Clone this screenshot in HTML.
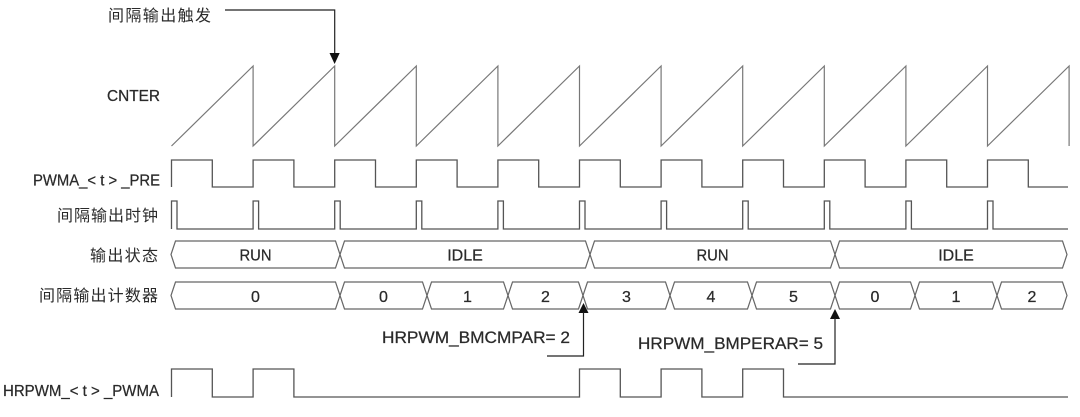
<!DOCTYPE html>
<html>
<head>
<meta charset="utf-8">
<style>
  html,body{margin:0;padding:0;background:#fff;}
  body{width:1080px;height:417px;overflow:hidden;}
  svg{display:block;}
  .lat{font-family:"Liberation Sans",Arial,sans-serif;fill:#2a2a2a;stroke:#2a2a2a;stroke-width:0.25;}
  .cjk{font-family:"Liberation Sans","Noto Sans CJK SC",sans-serif;fill:#2a2a2a;}
</style>
</head>
<body>
<svg width="1080" height="417" viewBox="0 0 1080 417" xmlns="http://www.w3.org/2000/svg">
  <rect width="1080" height="417" fill="#fff"/>

  <!-- top trigger annotation -->
  <text class="cjk" x="108" y="21" font-size="16" textLength="103" lengthAdjust="spacing">间隔输出触发</text>
  <path d="M225,10 H334.7 V55" fill="none" stroke="#222" stroke-width="1.2"/>
  <polygon points="329.5,53 339.7,53 334.6,64" fill="#111"/>

  <!-- CNTER -->
  <text class="lat" x="107" y="101" font-size="16" textLength="53" lengthAdjust="spacingAndGlyphs">CNTER</text>
  <path d="M171.5,146 L253.1,66 V146 L334.7,66 V146 L416.3,66 V146 L497.9,66 V146 L579.5,66 V146 L661.1,66 V146 L742.7,66 V146 L824.3,66 V146 L905.9,66 V146 L987.5,66 V146 L1069.1,66 V146"
        fill="none" stroke="#777" stroke-width="1.2"/>

  <!-- PWMA_<t>_PRE -->
  <text class="lat" x="33" y="185.5" font-size="16" textLength="127" lengthAdjust="spacingAndGlyphs">PWMA_&lt; t &gt; _PRE</text>
  <path d="M171.5,187 V160 H212.3 V187 H253.1 V160 H293.9 V187 H334.7 V160 H375.5 V187 H416.3 V160 H457.1 V187 H497.9 V160 H538.7 V187 H579.5 V160 H620.3 V187 H661.1 V160 H701.9 V187 H742.7 V160 H783.5 V187 H824.3 V160 H865.1 V187 H905.9 V160 H946.7 V187 H987.5 V160 H1028.3 V187 H1068"
        fill="none" stroke="#555" stroke-width="1.3"/>

  <!-- clock -->
  <text class="cjk" x="57" y="221" font-size="16" textLength="101" lengthAdjust="spacing">间隔输出时钟</text>
  <path d="M171.5,229 V201 H177 V229 H253.1 V201 H258.6 V229 H334.7 V201 H340.2 V229 H416.3 V201 H421.8 V229 H497.9 V201 H503.4 V229 H579.5 V201 H585 V229 H661.1 V201 H666.6 V229 H742.7 V201 H748.2 V229 H824.3 V201 H829.8 V229 H905.9 V201 H911.4 V229 H987.5 V201 H993 V229 H1068"
        fill="none" stroke="#555" stroke-width="1.3"/>

  <!-- output state bus -->
  <text class="cjk" x="90" y="261" font-size="16" textLength="68" lengthAdjust="spacing">输出状态</text>
  <g fill="none" stroke="#666" stroke-width="1.2">
    <path d="M171,254.5 L175.5,241 H335.5 L340,254.5 L335.5,268 H175.5 Z"/>
    <path d="M340,254.5 L344.5,241 H585.5 L590,254.5 L585.5,268 H344.5 Z"/>
    <path d="M590,254.5 L594.5,241 H830.5 L835,254.5 L830.5,268 H594.5 Z"/>
    <path d="M835,254.5 L839.5,241 H1062.5 L1067,254.5 L1062.5,268 H839.5 Z"/>
  </g>
  <g class="lat" font-size="16" text-anchor="middle">
    <text x="255.5" y="260.5" textLength="32" lengthAdjust="spacingAndGlyphs">RUN</text>
    <text x="465" y="260.5">IDLE</text>
    <text x="712.5" y="260.5" textLength="32" lengthAdjust="spacingAndGlyphs">RUN</text>
    <text x="956" y="260.5">IDLE</text>
  </g>

  <!-- counter bus -->
  <text class="cjk" x="39" y="301" font-size="16" textLength="119" lengthAdjust="spacing">间隔输出计数器</text>
  <g fill="none" stroke="#666" stroke-width="1.2">
    <path d="M171,295.5 L175.5,282 H335.5 L340,295.5 L335.5,309 H175.5 Z"/>
    <path d="M340,295.5 L344.5,282 H422.5 L427,295.5 L422.5,309 H344.5 Z"/>
    <path d="M427,295.5 L431.5,282 H503.5 L508,295.5 L503.5,309 H431.5 Z"/>
    <path d="M508,295.5 L512.5,282 H578.5 L583,295.5 L578.5,309 H512.5 Z"/>
    <path d="M583,295.5 L587.5,282 H665.5 L670,295.5 L665.5,309 H587.5 Z"/>
    <path d="M670,295.5 L674.5,282 H747.5 L752,295.5 L747.5,309 H674.5 Z"/>
    <path d="M752,295.5 L756.5,282 H830.5 L835,295.5 L830.5,309 H756.5 Z"/>
    <path d="M835,295.5 L839.5,282 H910.5 L915,295.5 L910.5,309 H839.5 Z"/>
    <path d="M915,295.5 L919.5,282 H992.5 L997,295.5 L992.5,309 H919.5 Z"/>
    <path d="M997,295.5 L1001.5,282 H1062.5 L1067,295.5 L1062.5,309 H1001.5 Z"/>
  </g>
  <g class="lat" font-size="16" text-anchor="middle">
    <text x="255.5" y="302">0</text>
    <text x="383.5" y="302">0</text>
    <text x="467.5" y="302">1</text>
    <text x="545.5" y="302">2</text>
    <text x="626.5" y="302">3</text>
    <text x="711" y="302">4</text>
    <text x="793.5" y="302">5</text>
    <text x="875" y="302">0</text>
    <text x="956" y="302">1</text>
    <text x="1032" y="302">2</text>
  </g>

  <!-- annotations -->
  <polygon points="578.5,313 588.5,313 583.5,303" fill="#111"/>
  <path d="M583.5,312 V356 H547" fill="none" stroke="#222" stroke-width="1.2"/>
  <text class="lat" x="382" y="343" font-size="17" textLength="188" lengthAdjust="spacingAndGlyphs">HRPWM_BMCMPAR= 2</text>

  <polygon points="830,319 840,319 835,309" fill="#111"/>
  <path d="M835,318 V364 H798" fill="none" stroke="#222" stroke-width="1.2"/>
  <text class="lat" x="638" y="349" font-size="17" textLength="185" lengthAdjust="spacingAndGlyphs">HRPWM_BMPERAR= 5</text>

  <!-- HRPWM_<t>_PWMA -->
  <text class="lat" x="3" y="396" font-size="16" textLength="156" lengthAdjust="spacingAndGlyphs">HRPWM_&lt; t &gt; _PWMA</text>
  <path d="M171.5,397 V369 H212.3 V397 H253.1 V369 H293.9 V397 H579.5 V369 H620.3 V397 H661.1 V369 H701.9 V397 H742.7 V369 H783.5 V397 H1068"
        fill="none" stroke="#555" stroke-width="1.3"/>
</svg>
</body>
</html>
